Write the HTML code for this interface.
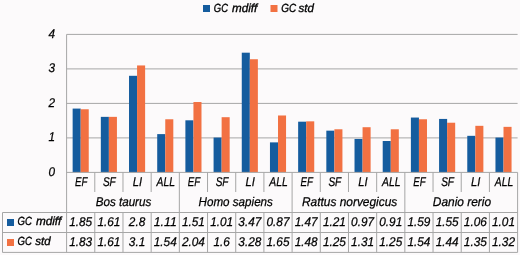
<!DOCTYPE html>
<html><head><meta charset="utf-8"><style>
html,body{margin:0;padding:0;background:#FCFAFB;}
body{width:520px;height:255px;overflow:hidden;font-family:"Liberation Sans",sans-serif;}
svg{display:block;will-change:transform;}
</style></head><body>
<svg width="520" height="255" viewBox="0 0 520 255">
<rect width="520" height="255" fill="#FCFAFB"/>
<g>
<line x1="66.6" y1="137.90" x2="517.6" y2="137.90" stroke="#A6A6A6" stroke-width="1"/>
<line x1="66.6" y1="103.40" x2="517.6" y2="103.40" stroke="#A6A6A6" stroke-width="1"/>
<line x1="66.6" y1="68.90" x2="517.6" y2="68.90" stroke="#A6A6A6" stroke-width="1"/>
<line x1="66.6" y1="34.40" x2="517.6" y2="34.40" stroke="#A6A6A6" stroke-width="1"/>
<rect x="72.64" y="108.58" width="8.05" height="63.83" fill="#155C9E"/>
<rect x="80.69" y="109.27" width="8.05" height="63.14" fill="#F27142"/>
<rect x="100.83" y="116.86" width="8.05" height="55.55" fill="#155C9E"/>
<rect x="108.88" y="116.86" width="8.05" height="55.55" fill="#F27142"/>
<rect x="129.02" y="75.80" width="8.05" height="96.60" fill="#155C9E"/>
<rect x="137.07" y="65.45" width="8.05" height="106.95" fill="#F27142"/>
<rect x="157.21" y="134.11" width="8.05" height="38.30" fill="#155C9E"/>
<rect x="165.26" y="119.27" width="8.05" height="53.13" fill="#F27142"/>
<rect x="185.39" y="120.31" width="8.05" height="52.09" fill="#155C9E"/>
<rect x="193.44" y="102.02" width="8.05" height="70.38" fill="#F27142"/>
<rect x="213.58" y="137.56" width="8.05" height="34.84" fill="#155C9E"/>
<rect x="221.63" y="117.20" width="8.05" height="55.20" fill="#F27142"/>
<rect x="241.77" y="52.69" width="8.05" height="119.72" fill="#155C9E"/>
<rect x="249.82" y="59.24" width="8.05" height="113.16" fill="#F27142"/>
<rect x="269.96" y="142.38" width="8.05" height="30.02" fill="#155C9E"/>
<rect x="278.01" y="115.48" width="8.05" height="56.92" fill="#F27142"/>
<rect x="298.14" y="121.69" width="8.05" height="50.71" fill="#155C9E"/>
<rect x="306.19" y="121.34" width="8.05" height="51.06" fill="#F27142"/>
<rect x="326.33" y="130.66" width="8.05" height="41.74" fill="#155C9E"/>
<rect x="334.38" y="129.28" width="8.05" height="43.12" fill="#F27142"/>
<rect x="354.52" y="138.94" width="8.05" height="33.46" fill="#155C9E"/>
<rect x="362.57" y="127.21" width="8.05" height="45.20" fill="#F27142"/>
<rect x="382.71" y="141.00" width="8.05" height="31.39" fill="#155C9E"/>
<rect x="390.76" y="129.28" width="8.05" height="43.12" fill="#F27142"/>
<rect x="410.89" y="117.55" width="8.05" height="54.86" fill="#155C9E"/>
<rect x="418.94" y="119.27" width="8.05" height="53.13" fill="#F27142"/>
<rect x="439.08" y="118.93" width="8.05" height="53.48" fill="#155C9E"/>
<rect x="447.13" y="122.72" width="8.05" height="49.68" fill="#F27142"/>
<rect x="467.27" y="135.83" width="8.05" height="36.57" fill="#155C9E"/>
<rect x="475.32" y="125.83" width="8.05" height="46.58" fill="#F27142"/>
<rect x="495.46" y="137.56" width="8.05" height="34.84" fill="#155C9E"/>
<rect x="503.51" y="126.86" width="8.05" height="45.54" fill="#F27142"/>
<line x1="66.6" y1="34.40" x2="66.6" y2="252.4" stroke="#A6A6A6" stroke-width="1"/>
<line x1="66.6" y1="172.4" x2="517.6" y2="172.4" stroke="#A6A6A6" stroke-width="1"/>
<line x1="94.79" y1="172.4" x2="94.79" y2="192" stroke="#A6A6A6" stroke-width="1"/>
<line x1="94.79" y1="212.5" x2="94.79" y2="252.4" stroke="#A6A6A6" stroke-width="1"/>
<line x1="122.97" y1="172.4" x2="122.97" y2="192" stroke="#A6A6A6" stroke-width="1"/>
<line x1="122.97" y1="212.5" x2="122.97" y2="252.4" stroke="#A6A6A6" stroke-width="1"/>
<line x1="151.16" y1="172.4" x2="151.16" y2="192" stroke="#A6A6A6" stroke-width="1"/>
<line x1="151.16" y1="212.5" x2="151.16" y2="252.4" stroke="#A6A6A6" stroke-width="1"/>
<line x1="179.35" y1="172.4" x2="179.35" y2="252.4" stroke="#A6A6A6" stroke-width="1"/>
<line x1="207.54" y1="172.4" x2="207.54" y2="192" stroke="#A6A6A6" stroke-width="1"/>
<line x1="207.54" y1="212.5" x2="207.54" y2="252.4" stroke="#A6A6A6" stroke-width="1"/>
<line x1="235.72" y1="172.4" x2="235.72" y2="192" stroke="#A6A6A6" stroke-width="1"/>
<line x1="235.72" y1="212.5" x2="235.72" y2="252.4" stroke="#A6A6A6" stroke-width="1"/>
<line x1="263.91" y1="172.4" x2="263.91" y2="192" stroke="#A6A6A6" stroke-width="1"/>
<line x1="263.91" y1="212.5" x2="263.91" y2="252.4" stroke="#A6A6A6" stroke-width="1"/>
<line x1="292.10" y1="172.4" x2="292.10" y2="252.4" stroke="#A6A6A6" stroke-width="1"/>
<line x1="320.29" y1="172.4" x2="320.29" y2="192" stroke="#A6A6A6" stroke-width="1"/>
<line x1="320.29" y1="212.5" x2="320.29" y2="252.4" stroke="#A6A6A6" stroke-width="1"/>
<line x1="348.48" y1="172.4" x2="348.48" y2="192" stroke="#A6A6A6" stroke-width="1"/>
<line x1="348.48" y1="212.5" x2="348.48" y2="252.4" stroke="#A6A6A6" stroke-width="1"/>
<line x1="376.66" y1="172.4" x2="376.66" y2="192" stroke="#A6A6A6" stroke-width="1"/>
<line x1="376.66" y1="212.5" x2="376.66" y2="252.4" stroke="#A6A6A6" stroke-width="1"/>
<line x1="404.85" y1="172.4" x2="404.85" y2="252.4" stroke="#A6A6A6" stroke-width="1"/>
<line x1="433.04" y1="172.4" x2="433.04" y2="192" stroke="#A6A6A6" stroke-width="1"/>
<line x1="433.04" y1="212.5" x2="433.04" y2="252.4" stroke="#A6A6A6" stroke-width="1"/>
<line x1="461.23" y1="172.4" x2="461.23" y2="192" stroke="#A6A6A6" stroke-width="1"/>
<line x1="461.23" y1="212.5" x2="461.23" y2="252.4" stroke="#A6A6A6" stroke-width="1"/>
<line x1="489.41" y1="172.4" x2="489.41" y2="192" stroke="#A6A6A6" stroke-width="1"/>
<line x1="489.41" y1="212.5" x2="489.41" y2="252.4" stroke="#A6A6A6" stroke-width="1"/>
<line x1="517.6" y1="172.4" x2="517.6" y2="252.4" stroke="#A6A6A6" stroke-width="1"/>
<line x1="2.5" y1="212.5" x2="517.6" y2="212.5" stroke="#A6A6A6" stroke-width="1"/>
<line x1="2.5" y1="232.5" x2="517.6" y2="232.5" stroke="#A6A6A6" stroke-width="1"/>
<line x1="2.5" y1="252.4" x2="517.6" y2="252.4" stroke="#A6A6A6" stroke-width="1"/>
<line x1="2.5" y1="212.5" x2="2.5" y2="252.4" stroke="#A6A6A6" stroke-width="1"/>
<rect x="7" y="219" width="7" height="7" fill="#155C9E"/>
<rect x="7" y="239" width="7" height="7" fill="#F27142"/>
<rect x="203" y="5" width="7" height="7" fill="#155C9E"/>
<rect x="270.5" y="5" width="7" height="7" fill="#F27142"/>
</g>
<g font-family="Liberation Sans, sans-serif" text-rendering="geometricPrecision" font-style="italic" fill="#000000" stroke="#000000" stroke-width="0.25" font-size="12.6">
<text id="y0" x="55.00" y="175.90" text-anchor="end" textLength="6.56" lengthAdjust="spacingAndGlyphs">0</text>
<text id="y1" x="55.00" y="141.40" text-anchor="end" textLength="6.56" lengthAdjust="spacingAndGlyphs">1</text>
<text id="y2" x="55.00" y="106.90" text-anchor="end" textLength="6.56" lengthAdjust="spacingAndGlyphs">2</text>
<text id="y3" x="55.00" y="72.40" text-anchor="end" textLength="6.56" lengthAdjust="spacingAndGlyphs">3</text>
<text id="y4" x="55.00" y="37.90" text-anchor="end" textLength="6.56" lengthAdjust="spacingAndGlyphs">4</text>
<text id="c0" x="81.14" y="185.70" text-anchor="middle" textLength="12.40" lengthAdjust="spacingAndGlyphs">EF</text>
<text id="a0" x="80.69" y="225.80" text-anchor="middle" textLength="22.96" lengthAdjust="spacingAndGlyphs">1.85</text>
<text id="b0" x="80.69" y="245.80" text-anchor="middle" textLength="22.96" lengthAdjust="spacingAndGlyphs">1.83</text>
<text id="c1" x="109.33" y="185.70" text-anchor="middle" textLength="12.90" lengthAdjust="spacingAndGlyphs">SF</text>
<text id="a1" x="108.88" y="225.80" text-anchor="middle" textLength="22.96" lengthAdjust="spacingAndGlyphs">1.61</text>
<text id="b1" x="108.88" y="245.80" text-anchor="middle" textLength="22.96" lengthAdjust="spacingAndGlyphs">1.61</text>
<text id="c2" x="137.52" y="185.70" text-anchor="middle" textLength="9.30" lengthAdjust="spacingAndGlyphs">LI</text>
<text id="a2" x="137.07" y="225.80" text-anchor="middle" textLength="16.40" lengthAdjust="spacingAndGlyphs">2.8</text>
<text id="b2" x="137.07" y="245.80" text-anchor="middle" textLength="16.40" lengthAdjust="spacingAndGlyphs">3.1</text>
<text id="c3" x="165.71" y="185.70" text-anchor="middle" textLength="18.50" lengthAdjust="spacingAndGlyphs">ALL</text>
<text id="a3" x="165.26" y="225.80" text-anchor="middle" textLength="22.96" lengthAdjust="spacingAndGlyphs">1.11</text>
<text id="b3" x="165.26" y="245.80" text-anchor="middle" textLength="22.96" lengthAdjust="spacingAndGlyphs">1.54</text>
<text id="c4" x="193.89" y="185.70" text-anchor="middle" textLength="12.40" lengthAdjust="spacingAndGlyphs">EF</text>
<text id="a4" x="193.44" y="225.80" text-anchor="middle" textLength="22.96" lengthAdjust="spacingAndGlyphs">1.51</text>
<text id="b4" x="193.44" y="245.80" text-anchor="middle" textLength="22.96" lengthAdjust="spacingAndGlyphs">2.04</text>
<text id="c5" x="222.08" y="185.70" text-anchor="middle" textLength="12.90" lengthAdjust="spacingAndGlyphs">SF</text>
<text id="a5" x="221.63" y="225.80" text-anchor="middle" textLength="22.96" lengthAdjust="spacingAndGlyphs">1.01</text>
<text id="b5" x="221.63" y="245.80" text-anchor="middle" textLength="16.40" lengthAdjust="spacingAndGlyphs">1.6</text>
<text id="c6" x="250.27" y="185.70" text-anchor="middle" textLength="9.30" lengthAdjust="spacingAndGlyphs">LI</text>
<text id="a6" x="249.82" y="225.80" text-anchor="middle" textLength="22.96" lengthAdjust="spacingAndGlyphs">3.47</text>
<text id="b6" x="249.82" y="245.80" text-anchor="middle" textLength="22.96" lengthAdjust="spacingAndGlyphs">3.28</text>
<text id="c7" x="278.46" y="185.70" text-anchor="middle" textLength="18.50" lengthAdjust="spacingAndGlyphs">ALL</text>
<text id="a7" x="278.01" y="225.80" text-anchor="middle" textLength="22.96" lengthAdjust="spacingAndGlyphs">0.87</text>
<text id="b7" x="278.01" y="245.80" text-anchor="middle" textLength="22.96" lengthAdjust="spacingAndGlyphs">1.65</text>
<text id="c8" x="306.64" y="185.70" text-anchor="middle" textLength="12.40" lengthAdjust="spacingAndGlyphs">EF</text>
<text id="a8" x="306.19" y="225.80" text-anchor="middle" textLength="22.96" lengthAdjust="spacingAndGlyphs">1.47</text>
<text id="b8" x="306.19" y="245.80" text-anchor="middle" textLength="22.96" lengthAdjust="spacingAndGlyphs">1.48</text>
<text id="c9" x="334.83" y="185.70" text-anchor="middle" textLength="12.90" lengthAdjust="spacingAndGlyphs">SF</text>
<text id="a9" x="334.38" y="225.80" text-anchor="middle" textLength="22.96" lengthAdjust="spacingAndGlyphs">1.21</text>
<text id="b9" x="334.38" y="245.80" text-anchor="middle" textLength="22.96" lengthAdjust="spacingAndGlyphs">1.25</text>
<text id="c10" x="363.02" y="185.70" text-anchor="middle" textLength="9.30" lengthAdjust="spacingAndGlyphs">LI</text>
<text id="a10" x="362.57" y="225.80" text-anchor="middle" textLength="22.96" lengthAdjust="spacingAndGlyphs">0.97</text>
<text id="b10" x="362.57" y="245.80" text-anchor="middle" textLength="22.96" lengthAdjust="spacingAndGlyphs">1.31</text>
<text id="c11" x="391.21" y="185.70" text-anchor="middle" textLength="18.50" lengthAdjust="spacingAndGlyphs">ALL</text>
<text id="a11" x="390.76" y="225.80" text-anchor="middle" textLength="22.96" lengthAdjust="spacingAndGlyphs">0.91</text>
<text id="b11" x="390.76" y="245.80" text-anchor="middle" textLength="22.96" lengthAdjust="spacingAndGlyphs">1.25</text>
<text id="c12" x="419.39" y="185.70" text-anchor="middle" textLength="12.40" lengthAdjust="spacingAndGlyphs">EF</text>
<text id="a12" x="418.94" y="225.80" text-anchor="middle" textLength="22.96" lengthAdjust="spacingAndGlyphs">1.59</text>
<text id="b12" x="418.94" y="245.80" text-anchor="middle" textLength="22.96" lengthAdjust="spacingAndGlyphs">1.54</text>
<text id="c13" x="447.58" y="185.70" text-anchor="middle" textLength="12.90" lengthAdjust="spacingAndGlyphs">SF</text>
<text id="a13" x="447.13" y="225.80" text-anchor="middle" textLength="22.96" lengthAdjust="spacingAndGlyphs">1.55</text>
<text id="b13" x="447.13" y="245.80" text-anchor="middle" textLength="22.96" lengthAdjust="spacingAndGlyphs">1.44</text>
<text id="c14" x="475.77" y="185.70" text-anchor="middle" textLength="9.30" lengthAdjust="spacingAndGlyphs">LI</text>
<text id="a14" x="475.32" y="225.80" text-anchor="middle" textLength="22.96" lengthAdjust="spacingAndGlyphs">1.06</text>
<text id="b14" x="475.32" y="245.80" text-anchor="middle" textLength="22.96" lengthAdjust="spacingAndGlyphs">1.35</text>
<text id="c15" x="503.96" y="185.70" text-anchor="middle" textLength="18.50" lengthAdjust="spacingAndGlyphs">ALL</text>
<text id="a15" x="503.51" y="225.80" text-anchor="middle" textLength="22.96" lengthAdjust="spacingAndGlyphs">1.01</text>
<text id="b15" x="503.51" y="245.80" text-anchor="middle" textLength="22.96" lengthAdjust="spacingAndGlyphs">1.32</text>
<text id="g0" x="123.47" y="205.75" text-anchor="middle" textLength="55.65" lengthAdjust="spacingAndGlyphs">Bos taurus</text>
<text id="g1" x="235.72" y="205.75" text-anchor="middle" textLength="74.41" lengthAdjust="spacingAndGlyphs">Homo sapiens</text>
<text id="g2" x="349.62" y="205.75" text-anchor="middle" textLength="95.42" lengthAdjust="spacingAndGlyphs">Rattus norvegicus</text>
<text id="g3" x="461.98" y="205.75" text-anchor="middle" textLength="58.22" lengthAdjust="spacingAndGlyphs">Danio rerio</text>
<text id="r1a" x="17.47" y="225.00" font-size="11.8" stroke-width="0.35" textLength="14.36" lengthAdjust="spacingAndGlyphs">GC</text>
<text id="r1b" x="35.90" y="225.00" font-size="11.8" stroke-width="0.35" textLength="25.51" lengthAdjust="spacingAndGlyphs">mdiff</text>
<text id="r2a" x="17.47" y="245.00" font-size="11.8" stroke-width="0.35" textLength="14.36" lengthAdjust="spacingAndGlyphs">GC</text>
<text id="r2b" x="35.21" y="245.00" font-size="11.8" stroke-width="0.35" textLength="15.33" lengthAdjust="spacingAndGlyphs">std</text>
<text id="l1a" x="213.83" y="12.00" font-size="11.8" stroke-width="0.35" textLength="14.15" lengthAdjust="spacingAndGlyphs">GC</text>
<text id="l1b" x="232.00" y="12.00" font-size="11.8" stroke-width="0.35" textLength="25.28" lengthAdjust="spacingAndGlyphs">mdiff</text>
<text id="l2a" x="281.25" y="12.00" font-size="11.8" stroke-width="0.35" textLength="14.90" lengthAdjust="spacingAndGlyphs">GC</text>
<text id="l2b" x="298.57" y="12.00" font-size="11.8" stroke-width="0.35" textLength="15.36" lengthAdjust="spacingAndGlyphs">std</text>
</g>
</svg>
</body></html>
